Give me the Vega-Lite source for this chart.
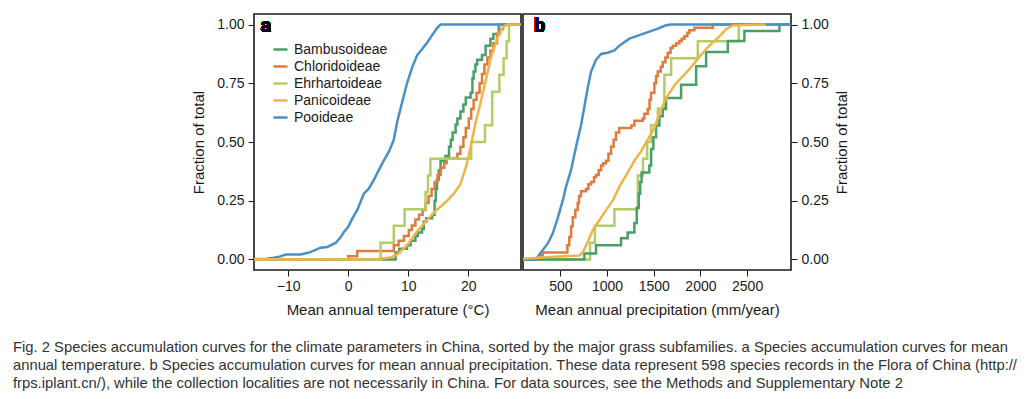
{
  "$schema": "https://vega.github.io/schema/vega-lite/v6.json",
  "background": "white",
  "padding": {"left": 12, "top": 13, "right": 5, "bottom": 5},
  "config": {
    "font": "Liberation Sans",
    "view": {"stroke": "#1a1a1a", "strokeWidth": 1.6},
    "axis": {"domain": false, "grid": false, "tickColor": "#1a1a1a", "tickSize": 6, "tickWidth": 1, "labelFont": "Liberation Sans", "titleFont": "Liberation Sans", "labelFontSize": 14, "labelColor": "#1a1a1a", "titleFontSize": 15, "titleFontWeight": "normal", "titleColor": "#1a1a1a", "labelPadding": 4},
    "legend": {"labelFont": "Liberation Sans"},
    "concat": {"spacing": 0}
  },
  "title": {
    "text": [
      "Fig. 2 Species accumulation curves for the climate parameters in China, sorted by the major grass subfamilies. a Species accumulation curves for mean",
      "annual temperature. b Species accumulation curves for mean annual precipitation. These data represent 598 species records in the Flora of China (http://",
      "frps.iplant.cn/), while the collection localities are not necessarily in China. For data sources, see the Methods and Supplementary Note 2"
    ],
    "orient": "bottom", "anchor": "start", "frame": "bounds", "dx": -178,
    "font": "Liberation Sans",
    "fontSize": 14.8, "fontWeight": "normal", "color": "#333333", "lineHeight": 18, "offset": 22
  },
  "datasets": {
    "d": [
      {"p":"a","s":"Pooideae","x":-20,"y":0},{"p":"a","s":"Pooideae","x":-13.5,"y":0.003},{"p":"a","s":"Pooideae","x":-12.4,"y":0.007},{"p":"a","s":"Pooideae","x":-11.3,"y":0.013},{"p":"a","s":"Pooideae","x":-10.4,"y":0.021},{"p":"a","s":"Pooideae","x":-7.9,"y":0.021},{"p":"a","s":"Pooideae","x":-6.3,"y":0.031},{"p":"a","s":"Pooideae","x":-4.6,"y":0.05},{"p":"a","s":"Pooideae","x":-3.5,"y":0.053},{"p":"a","s":"Pooideae","x":-2.1,"y":0.07},{"p":"a","s":"Pooideae","x":-1.3,"y":0.093},{"p":"a","s":"Pooideae","x":-0.7,"y":0.117},{"p":"a","s":"Pooideae","x":0,"y":0.139},{"p":"a","s":"Pooideae","x":0.7,"y":0.175},{"p":"a","s":"Pooideae","x":1.5,"y":0.21},{"p":"a","s":"Pooideae","x":2.6,"y":0.28},{"p":"a","s":"Pooideae","x":3.4,"y":0.3},{"p":"a","s":"Pooideae","x":4.3,"y":0.34},{"p":"a","s":"Pooideae","x":5.7,"y":0.41},{"p":"a","s":"Pooideae","x":6.8,"y":0.46},{"p":"a","s":"Pooideae","x":7.6,"y":0.51},{"p":"a","s":"Pooideae","x":8.2,"y":0.59},{"p":"a","s":"Pooideae","x":9.0,"y":0.67},{"p":"a","s":"Pooideae","x":9.8,"y":0.75},{"p":"a","s":"Pooideae","x":10.7,"y":0.82},{"p":"a","s":"Pooideae","x":11.5,"y":0.87},{"p":"a","s":"Pooideae","x":12.3,"y":0.895},{"p":"a","s":"Pooideae","x":13.2,"y":0.925},{"p":"a","s":"Pooideae","x":14.0,"y":0.955},{"p":"a","s":"Pooideae","x":14.8,"y":0.985},{"p":"a","s":"Pooideae","x":15.4,"y":1},{"p":"a","s":"Pooideae","x":35,"y":1},

      {"p":"a","s":"Panicoideae","x":-20,"y":0},{"p":"a","s":"Panicoideae","x":5,"y":0.002},{"p":"a","s":"Panicoideae","x":7,"y":0.008},{"p":"a","s":"Panicoideae","x":8.1,"y":0.02},{"p":"a","s":"Panicoideae","x":9.8,"y":0.06},{"p":"a","s":"Panicoideae","x":11.5,"y":0.12},{"p":"a","s":"Panicoideae","x":13.2,"y":0.17},{"p":"a","s":"Panicoideae","x":14.5,"y":0.205},{"p":"a","s":"Panicoideae","x":16.5,"y":0.25},{"p":"a","s":"Panicoideae","x":17.6,"y":0.28},{"p":"a","s":"Panicoideae","x":18.7,"y":0.32},{"p":"a","s":"Panicoideae","x":19.7,"y":0.4},{"p":"a","s":"Panicoideae","x":20.5,"y":0.49},{"p":"a","s":"Panicoideae","x":21.2,"y":0.58},{"p":"a","s":"Panicoideae","x":21.9,"y":0.65},{"p":"a","s":"Panicoideae","x":22.9,"y":0.76},{"p":"a","s":"Panicoideae","x":23.9,"y":0.87},{"p":"a","s":"Panicoideae","x":25.0,"y":0.95},{"p":"a","s":"Panicoideae","x":25.8,"y":0.99},{"p":"a","s":"Panicoideae","x":26.5,"y":1},{"p":"a","s":"Panicoideae","x":35,"y":1},

      {"p":"a","s":"Bambusoideae","x":-20,"y":0},{"p":"a","s":"Bambusoideae","x":7.9,"y":0.03},{"p":"a","s":"Bambusoideae","x":8.5,"y":0.045},{"p":"a","s":"Bambusoideae","x":9.8,"y":0.06},{"p":"a","s":"Bambusoideae","x":10.4,"y":0.08},{"p":"a","s":"Bambusoideae","x":11.2,"y":0.1},{"p":"a","s":"Bambusoideae","x":11.6,"y":0.115},{"p":"a","s":"Bambusoideae","x":12.3,"y":0.13},{"p":"a","s":"Bambusoideae","x":12.6,"y":0.16},{"p":"a","s":"Bambusoideae","x":13.0,"y":0.175},{"p":"a","s":"Bambusoideae","x":14.0,"y":0.19},{"p":"a","s":"Bambusoideae","x":14.4,"y":0.25},{"p":"a","s":"Bambusoideae","x":14.6,"y":0.3},{"p":"a","s":"Bambusoideae","x":14.8,"y":0.34},{"p":"a","s":"Bambusoideae","x":15.1,"y":0.38},{"p":"a","s":"Bambusoideae","x":15.4,"y":0.42},{"p":"a","s":"Bambusoideae","x":16.2,"y":0.44},{"p":"a","s":"Bambusoideae","x":16.8,"y":0.48},{"p":"a","s":"Bambusoideae","x":17.1,"y":0.51},{"p":"a","s":"Bambusoideae","x":17.4,"y":0.54},{"p":"a","s":"Bambusoideae","x":17.9,"y":0.575},{"p":"a","s":"Bambusoideae","x":18.2,"y":0.6},{"p":"a","s":"Bambusoideae","x":18.7,"y":0.63},{"p":"a","s":"Bambusoideae","x":19.2,"y":0.66},{"p":"a","s":"Bambusoideae","x":19.6,"y":0.69},{"p":"a","s":"Bambusoideae","x":20.4,"y":0.71},{"p":"a","s":"Bambusoideae","x":20.7,"y":0.77},{"p":"a","s":"Bambusoideae","x":20.9,"y":0.8},{"p":"a","s":"Bambusoideae","x":21.2,"y":0.83},{"p":"a","s":"Bambusoideae","x":21.5,"y":0.85},{"p":"a","s":"Bambusoideae","x":22.3,"y":0.87},{"p":"a","s":"Bambusoideae","x":22.9,"y":0.91},{"p":"a","s":"Bambusoideae","x":23.7,"y":0.94},{"p":"a","s":"Bambusoideae","x":24.2,"y":0.96},{"p":"a","s":"Bambusoideae","x":25.1,"y":1},{"p":"a","s":"Bambusoideae","x":35,"y":1},

      {"p":"a","s":"Chloridoideae","x":-20,"y":0},{"p":"a","s":"Chloridoideae","x":0,"y":0.014},{"p":"a","s":"Chloridoideae","x":1.5,"y":0.036},{"p":"a","s":"Chloridoideae","x":7.6,"y":0.06},{"p":"a","s":"Chloridoideae","x":8.4,"y":0.08},{"p":"a","s":"Chloridoideae","x":9.3,"y":0.1},{"p":"a","s":"Chloridoideae","x":10.1,"y":0.125},{"p":"a","s":"Chloridoideae","x":10.6,"y":0.145},{"p":"a","s":"Chloridoideae","x":11.2,"y":0.17},{"p":"a","s":"Chloridoideae","x":11.8,"y":0.19},{"p":"a","s":"Chloridoideae","x":12.4,"y":0.21},{"p":"a","s":"Chloridoideae","x":12.9,"y":0.24},{"p":"a","s":"Chloridoideae","x":13.4,"y":0.27},{"p":"a","s":"Chloridoideae","x":13.9,"y":0.3},{"p":"a","s":"Chloridoideae","x":14.4,"y":0.33},{"p":"a","s":"Chloridoideae","x":14.9,"y":0.36},{"p":"a","s":"Chloridoideae","x":15.4,"y":0.39},{"p":"a","s":"Chloridoideae","x":16.0,"y":0.41},{"p":"a","s":"Chloridoideae","x":16.4,"y":0.43},{"p":"a","s":"Chloridoideae","x":18.2,"y":0.45},{"p":"a","s":"Chloridoideae","x":18.7,"y":0.48},{"p":"a","s":"Chloridoideae","x":19.2,"y":0.52},{"p":"a","s":"Chloridoideae","x":19.6,"y":0.56},{"p":"a","s":"Chloridoideae","x":20.1,"y":0.6},{"p":"a","s":"Chloridoideae","x":20.5,"y":0.64},{"p":"a","s":"Chloridoideae","x":20.9,"y":0.68},{"p":"a","s":"Chloridoideae","x":21.4,"y":0.71},{"p":"a","s":"Chloridoideae","x":21.9,"y":0.75},{"p":"a","s":"Chloridoideae","x":22.3,"y":0.79},{"p":"a","s":"Chloridoideae","x":22.7,"y":0.83},{"p":"a","s":"Chloridoideae","x":23.2,"y":0.86},{"p":"a","s":"Chloridoideae","x":23.7,"y":0.89},{"p":"a","s":"Chloridoideae","x":24.2,"y":0.92},{"p":"a","s":"Chloridoideae","x":24.8,"y":0.96},{"p":"a","s":"Chloridoideae","x":25.3,"y":0.98},{"p":"a","s":"Chloridoideae","x":25.8,"y":1},{"p":"a","s":"Chloridoideae","x":35,"y":1},

      {"p":"a","s":"Ehrhartoideae","x":-20,"y":0},{"p":"a","s":"Ehrhartoideae","x":5.4,"y":0.071},{"p":"a","s":"Ehrhartoideae","x":7.6,"y":0.143},{"p":"a","s":"Ehrhartoideae","x":9.4,"y":0.214},{"p":"a","s":"Ehrhartoideae","x":12.9,"y":0.286},{"p":"a","s":"Ehrhartoideae","x":13.3,"y":0.357},{"p":"a","s":"Ehrhartoideae","x":13.7,"y":0.429},{"p":"a","s":"Ehrhartoideae","x":20.5,"y":0.5},{"p":"a","s":"Ehrhartoideae","x":22.8,"y":0.571},{"p":"a","s":"Ehrhartoideae","x":24.0,"y":0.714},{"p":"a","s":"Ehrhartoideae","x":25.2,"y":0.786},{"p":"a","s":"Ehrhartoideae","x":25.9,"y":0.857},{"p":"a","s":"Ehrhartoideae","x":26.4,"y":0.929},{"p":"a","s":"Ehrhartoideae","x":26.8,"y":1},{"p":"a","s":"Ehrhartoideae","x":35,"y":1},

      {"p":"b","s":"Pooideae","x":0,"y":0},{"p":"b","s":"Pooideae","x":239,"y":0},{"p":"b","s":"Pooideae","x":293,"y":0.031},{"p":"b","s":"Pooideae","x":364,"y":0.067},{"p":"b","s":"Pooideae","x":418,"y":0.11},{"p":"b","s":"Pooideae","x":471,"y":0.175},{"p":"b","s":"Pooideae","x":525,"y":0.25},{"p":"b","s":"Pooideae","x":561,"y":0.31},{"p":"b","s":"Pooideae","x":614,"y":0.38},{"p":"b","s":"Pooideae","x":668,"y":0.48},{"p":"b","s":"Pooideae","x":721,"y":0.57},{"p":"b","s":"Pooideae","x":757,"y":0.65},{"p":"b","s":"Pooideae","x":793,"y":0.73},{"p":"b","s":"Pooideae","x":829,"y":0.8},{"p":"b","s":"Pooideae","x":882,"y":0.85},{"p":"b","s":"Pooideae","x":936,"y":0.875},{"p":"b","s":"Pooideae","x":1007,"y":0.88},{"p":"b","s":"Pooideae","x":1079,"y":0.89},{"p":"b","s":"Pooideae","x":1132,"y":0.91},{"p":"b","s":"Pooideae","x":1239,"y":0.94},{"p":"b","s":"Pooideae","x":1346,"y":0.955},{"p":"b","s":"Pooideae","x":1453,"y":0.97},{"p":"b","s":"Pooideae","x":1543,"y":0.983},{"p":"b","s":"Pooideae","x":1632,"y":0.997},{"p":"b","s":"Pooideae","x":1686,"y":1},{"p":"b","s":"Pooideae","x":3200,"y":1},

      {"p":"b","s":"Panicoideae","x":0,"y":0},{"p":"b","s":"Panicoideae","x":382,"y":0.01},{"p":"b","s":"Panicoideae","x":704,"y":0.017},{"p":"b","s":"Panicoideae","x":739,"y":0.03},{"p":"b","s":"Panicoideae","x":793,"y":0.074},{"p":"b","s":"Panicoideae","x":846,"y":0.124},{"p":"b","s":"Panicoideae","x":918,"y":0.167},{"p":"b","s":"Panicoideae","x":989,"y":0.21},{"p":"b","s":"Panicoideae","x":1061,"y":0.25},{"p":"b","s":"Panicoideae","x":1132,"y":0.31},{"p":"b","s":"Panicoideae","x":1221,"y":0.37},{"p":"b","s":"Panicoideae","x":1293,"y":0.42},{"p":"b","s":"Panicoideae","x":1364,"y":0.46},{"p":"b","s":"Panicoideae","x":1436,"y":0.51},{"p":"b","s":"Panicoideae","x":1507,"y":0.56},{"p":"b","s":"Panicoideae","x":1561,"y":0.62},{"p":"b","s":"Panicoideae","x":1614,"y":0.67},{"p":"b","s":"Panicoideae","x":1668,"y":0.71},{"p":"b","s":"Panicoideae","x":1739,"y":0.75},{"p":"b","s":"Panicoideae","x":1811,"y":0.78},{"p":"b","s":"Panicoideae","x":1882,"y":0.81},{"p":"b","s":"Panicoideae","x":1971,"y":0.854},{"p":"b","s":"Panicoideae","x":2025,"y":0.88},{"p":"b","s":"Panicoideae","x":2096,"y":0.91},{"p":"b","s":"Panicoideae","x":2204,"y":0.95},{"p":"b","s":"Panicoideae","x":2275,"y":0.98},{"p":"b","s":"Panicoideae","x":2346,"y":0.996},{"p":"b","s":"Panicoideae","x":2700,"y":1},

      {"p":"b","s":"Chloridoideae","x":0,"y":0},{"p":"b","s":"Chloridoideae","x":293,"y":0.017},{"p":"b","s":"Chloridoideae","x":311,"y":0.03},{"p":"b","s":"Chloridoideae","x":575,"y":0.06},{"p":"b","s":"Chloridoideae","x":596,"y":0.096},{"p":"b","s":"Chloridoideae","x":615,"y":0.14},{"p":"b","s":"Chloridoideae","x":632,"y":0.18},{"p":"b","s":"Chloridoideae","x":660,"y":0.21},{"p":"b","s":"Chloridoideae","x":686,"y":0.24},{"p":"b","s":"Chloridoideae","x":700,"y":0.27},{"p":"b","s":"Chloridoideae","x":721,"y":0.29},{"p":"b","s":"Chloridoideae","x":775,"y":0.3},{"p":"b","s":"Chloridoideae","x":800,"y":0.32},{"p":"b","s":"Chloridoideae","x":829,"y":0.33},{"p":"b","s":"Chloridoideae","x":860,"y":0.35},{"p":"b","s":"Chloridoideae","x":882,"y":0.36},{"p":"b","s":"Chloridoideae","x":910,"y":0.38},{"p":"b","s":"Chloridoideae","x":936,"y":0.4},{"p":"b","s":"Chloridoideae","x":960,"y":0.41},{"p":"b","s":"Chloridoideae","x":989,"y":0.42},{"p":"b","s":"Chloridoideae","x":1015,"y":0.45},{"p":"b","s":"Chloridoideae","x":1043,"y":0.48},{"p":"b","s":"Chloridoideae","x":1070,"y":0.51},{"p":"b","s":"Chloridoideae","x":1096,"y":0.54},{"p":"b","s":"Chloridoideae","x":1130,"y":0.56},{"p":"b","s":"Chloridoideae","x":1260,"y":0.57},{"p":"b","s":"Chloridoideae","x":1293,"y":0.59},{"p":"b","s":"Chloridoideae","x":1382,"y":0.6},{"p":"b","s":"Chloridoideae","x":1400,"y":0.62},{"p":"b","s":"Chloridoideae","x":1436,"y":0.64},{"p":"b","s":"Chloridoideae","x":1455,"y":0.68},{"p":"b","s":"Chloridoideae","x":1471,"y":0.71},{"p":"b","s":"Chloridoideae","x":1507,"y":0.75},{"p":"b","s":"Chloridoideae","x":1525,"y":0.78},{"p":"b","s":"Chloridoideae","x":1543,"y":0.8},{"p":"b","s":"Chloridoideae","x":1575,"y":0.82},{"p":"b","s":"Chloridoideae","x":1596,"y":0.84},{"p":"b","s":"Chloridoideae","x":1625,"y":0.86},{"p":"b","s":"Chloridoideae","x":1650,"y":0.88},{"p":"b","s":"Chloridoideae","x":1680,"y":0.9},{"p":"b","s":"Chloridoideae","x":1704,"y":0.91},{"p":"b","s":"Chloridoideae","x":1740,"y":0.92},{"p":"b","s":"Chloridoideae","x":1775,"y":0.93},{"p":"b","s":"Chloridoideae","x":1800,"y":0.94},{"p":"b","s":"Chloridoideae","x":1829,"y":0.95},{"p":"b","s":"Chloridoideae","x":1860,"y":0.965},{"p":"b","s":"Chloridoideae","x":1882,"y":0.976},{"p":"b","s":"Chloridoideae","x":1936,"y":0.986},{"p":"b","s":"Chloridoideae","x":2132,"y":1},{"p":"b","s":"Chloridoideae","x":3200,"y":1},

      {"p":"b","s":"Ehrhartoideae","x":0,"y":0},{"p":"b","s":"Ehrhartoideae","x":818,"y":0.071},{"p":"b","s":"Ehrhartoideae","x":870,"y":0.143},{"p":"b","s":"Ehrhartoideae","x":1079,"y":0.214},{"p":"b","s":"Ehrhartoideae","x":1330,"y":0.357},{"p":"b","s":"Ehrhartoideae","x":1385,"y":0.429},{"p":"b","s":"Ehrhartoideae","x":1430,"y":0.5},{"p":"b","s":"Ehrhartoideae","x":1472,"y":0.571},{"p":"b","s":"Ehrhartoideae","x":1544,"y":0.643},{"p":"b","s":"Ehrhartoideae","x":1614,"y":0.786},{"p":"b","s":"Ehrhartoideae","x":1686,"y":0.857},{"p":"b","s":"Ehrhartoideae","x":1972,"y":0.929},{"p":"b","s":"Ehrhartoideae","x":2411,"y":1},{"p":"b","s":"Ehrhartoideae","x":3200,"y":1},

      {"p":"b","s":"Bambusoideae","x":0,"y":0},{"p":"b","s":"Bambusoideae","x":757,"y":0.025},{"p":"b","s":"Bambusoideae","x":882,"y":0.06},{"p":"b","s":"Bambusoideae","x":1150,"y":0.09},{"p":"b","s":"Bambusoideae","x":1221,"y":0.115},{"p":"b","s":"Bambusoideae","x":1293,"y":0.155},{"p":"b","s":"Bambusoideae","x":1318,"y":0.22},{"p":"b","s":"Bambusoideae","x":1340,"y":0.28},{"p":"b","s":"Bambusoideae","x":1355,"y":0.33},{"p":"b","s":"Bambusoideae","x":1370,"y":0.37},{"p":"b","s":"Bambusoideae","x":1453,"y":0.4},{"p":"b","s":"Bambusoideae","x":1472,"y":0.47},{"p":"b","s":"Bambusoideae","x":1496,"y":0.52},{"p":"b","s":"Bambusoideae","x":1525,"y":0.57},{"p":"b","s":"Bambusoideae","x":1561,"y":0.61},{"p":"b","s":"Bambusoideae","x":1596,"y":0.64},{"p":"b","s":"Bambusoideae","x":1632,"y":0.687},{"p":"b","s":"Bambusoideae","x":1793,"y":0.744},{"p":"b","s":"Bambusoideae","x":1954,"y":0.823},{"p":"b","s":"Bambusoideae","x":2061,"y":0.883},{"p":"b","s":"Bambusoideae","x":2293,"y":0.93},{"p":"b","s":"Bambusoideae","x":2471,"y":0.973},{"p":"b","s":"Bambusoideae","x":2846,"y":1},{"p":"b","s":"Bambusoideae","x":3200,"y":1}
    ]
  },
  "hconcat": [
    {
      "width": 267, "height": 256,
      "data": {"name": "d"},
      "transform": [{"filter": "datum.p == 'a'"}],
      "encoding": {
        "x": {"field": "x", "type": "quantitative", "scale": {"domain": [-15.7, 28.8], "nice": false, "zero": false},
              "axis": {"values": [-10, 0, 10, 20], "title": "Mean annual temperature (°C)", "labelPadding": 3, "titlePadding": 9, "labelFlush": false}},
        "y": {"field": "y", "type": "quantitative", "scale": {"domain": [-0.045, 1.045], "nice": false, "zero": false},
              "axis": {"values": [0, 0.25, 0.5, 0.75, 1], "format": ".2f", "title": "Fraction of total", "titlePadding": 10, "labelFlush": false}}
      },
      "layer": [
        {
          "transform": [{"filter": "datum.s != 'Pooideae' && datum.s != 'Panicoideae'"}],
          "mark": {"type": "line", "interpolate": "step-after", "strokeWidth": 2.5, "clip": true},
          "encoding": {"color": {"field": "s", "type": "nominal",
            "scale": {"domain": ["Bambusoideae", "Chloridoideae", "Ehrhartoideae", "Panicoideae", "Pooideae"], "range": ["#4a9e68", "#de7c3f", "#b3cd66", "#eeb44a", "#4b90c4"]},
            "legend": {"orient": "none", "legendX": 18, "legendY": 27, "title": null, "symbolType": "stroke", "symbolSize": 196, "symbolStrokeWidth": 2.5, "labelFont": "Liberation Sans", "labelFontSize": 14, "labelColor": "#1a1a1a", "rowPadding": 1, "padding": 0, "labelOffset": 5}}}
        },
        {
          "transform": [{"filter": "datum.s == 'Pooideae' || datum.s == 'Panicoideae'"}],
          "mark": {"type": "line", "interpolate": "linear", "strokeWidth": 2.5, "clip": true},
          "encoding": {"color": {"field": "s", "type": "nominal"}}
        },
        {
          "mark": {"type": "text", "text": "a", "font": "Roboto", "fontWeight": "bold", "fontSize": 20, "align": "left", "baseline": "middle", "color": "#000"},
          "encoding": {"x": {"datum": -14.6}, "y": {"datum": 0.995}}
        }
      ]
    },
    {
      "width": 268, "height": 256,
      "data": {"name": "d"},
      "transform": [{"filter": "datum.p == 'b'"}],
      "encoding": {
        "x": {"field": "x", "type": "quantitative", "scale": {"domain": [100, 2970], "nice": false, "zero": false},
              "axis": {"values": [500, 1000, 1500, 2000, 2500], "format": "d", "title": "Mean annual precipitation (mm/year)", "labelPadding": 3, "titlePadding": 9, "labelFlush": false}},
        "y": {"field": "y", "type": "quantitative", "scale": {"domain": [-0.045, 1.045], "nice": false, "zero": false},
              "axis": {"orient": "right", "values": [0, 0.25, 0.5, 0.75, 1], "format": ".2f", "title": "Fraction of total", "titleAngle": 270, "titleBaseline": "top", "titlePadding": 6, "labelFlush": false}}
      },
      "layer": [
        {
          "transform": [{"filter": "datum.s != 'Pooideae' && datum.s != 'Panicoideae'"}],
          "mark": {"type": "line", "interpolate": "step-after", "strokeWidth": 2.5, "clip": true},
          "encoding": {"color": {"field": "s", "type": "nominal", "legend": null}}
        },
        {
          "transform": [{"filter": "datum.s == 'Pooideae' || datum.s == 'Panicoideae'"}],
          "mark": {"type": "line", "interpolate": "linear", "strokeWidth": 2.5, "clip": true},
          "encoding": {"color": {"field": "s", "type": "nominal", "legend": null}}
        },
        {
          "mark": {"type": "text", "text": "b", "font": "Roboto", "fontWeight": "bold", "fontSize": 20, "align": "left", "baseline": "middle", "color": "#000"},
          "encoding": {"x": {"datum": 218}, "y": {"datum": 0.995}}
        }
      ]
    }
  ],
  "resolve": {"legend": {"color": "independent"}}
}
